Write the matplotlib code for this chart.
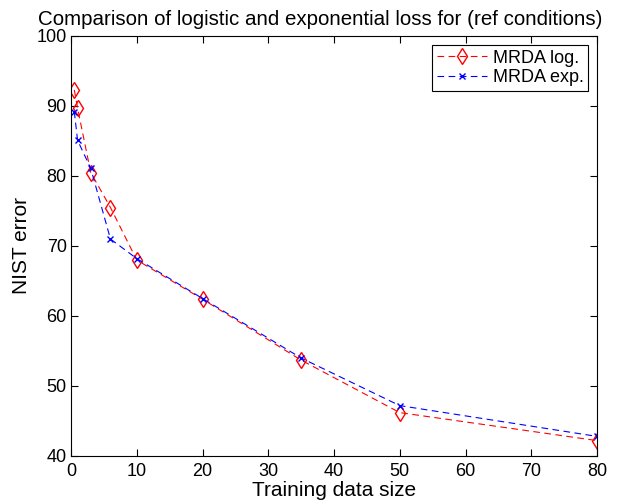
import matplotlib
matplotlib.use("Agg")
import matplotlib.pyplot as plt

plt.rcParams['font.family'] = ['Liberation Sans', 'DejaVu Sans']

x = [0.5, 1, 3, 6, 10, 20, 35, 50, 80]
log_err = [92.3, 89.7, 80.5, 75.5, 68.0, 62.4, 53.7, 46.2, 42.2]
exp_err = [89.2, 85.1, 81.1, 71.0, 68.2, 62.5, 54.0, 47.2, 42.8]

fig = plt.figure(figsize=(6.17, 5.01), dpi=100)
ax = fig.add_axes([71/617, 1-456/501, (597-71)/617, (456-36)/501])

ax.plot(x, log_err, linestyle=(0, (6, 4)), color='red', marker='d', markersize=8,
        markerfacecolor='none', markeredgecolor='red', linewidth=0.8, label='MRDA log.')
ax.plot(x, exp_err, linestyle=(0, (6, 4)), color='blue', marker='x', markersize=5,
        markeredgecolor='blue', linewidth=0.8, label='MRDA exp.')

ax.set_xlim(0, 80)
ax.set_ylim(40, 100)
ax.set_xticks(range(0, 81, 10))
ax.set_yticks(range(40, 101, 10))
ax.tick_params(direction='in', top=True, right=True, labelsize=13, length=5)
ax.tick_params(axis='x', pad=5)
ax.tick_params(axis='y', pad=3)
for s in ax.spines.values():
    s.set_linewidth(0.8)

ax.set_xlabel('Training data size', fontsize=15, labelpad=1)
ax.set_ylabel('NIST error', fontsize=15, labelpad=4)
ax.set_title('Comparison of logistic and exponential loss for (ref conditions)',
             fontsize=14.8, pad=8, x=0.473)

leg = ax.legend(loc='upper right', fontsize=13, fancybox=False, edgecolor='black',
                framealpha=1, borderpad=0.25, handlelength=2.8, handletextpad=0.3,
                labelspacing=0.15, borderaxespad=0.5)
leg.get_frame().set_linewidth(0.8)

fig.savefig('out.png', dpi=100)
